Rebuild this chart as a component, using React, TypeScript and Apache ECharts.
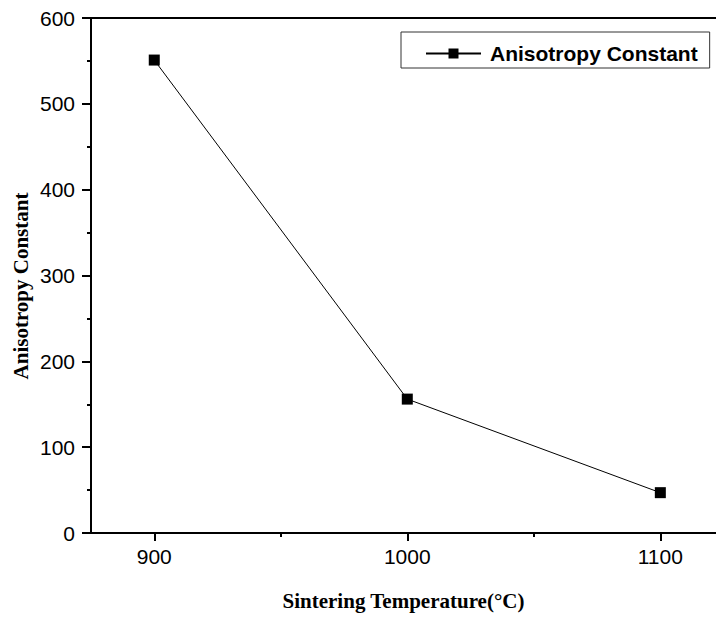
import React, { useEffect, useRef } from "react";
import * as echarts from "echarts";

// Sintering temperature (°C) and the anisotropy constant measured at each
const temperatures = [900, 1000, 1100];
const anisotropy = [551, 156, 47];

const xMajorTicks = [900, 1000, 1100];
const xMinorTicks = [950, 1050];
const yTicks = [0, 100, 200, 300, 400, 500, 600];

const seriesName = "Anisotropy Constant";
const xTitle = "Sintering Temperature(\u00B0C)";
const yTitle = "Anisotropy Constant";

const X_MIN = 875;
const X_MAX = 1122;

export default function App() {
  const ref = useRef<HTMLDivElement>(null);

  useEffect(() => {
    document.body.style.margin = "0";
    if (!ref.current) return;
    const chart = echarts.init(ref.current, undefined, { renderer: "svg" });

    const axisLine = { show: true, lineStyle: { color: "#000", width: 2 } };
    const sans = '"Liberation Sans", Arial, sans-serif';
    const serif = '"Liberation Serif", "Times New Roman", serif';

    chart.setOption({
      animation: false,
      backgroundColor: "#fff",
      grid: { left: 91, top: 18, right: 0, bottom: 88, containLabel: false },
      legend: {
        show: true,
        left: 401,
        top: 32,
        padding: [11, 12, 4, 24],
        borderColor: "#333",
        borderWidth: 1,
        borderRadius: 0,
        itemWidth: 55,
        itemHeight: 12.5,
        textStyle: {
          fontFamily: sans,
          fontWeight: "bold",
          fontSize: 21,
          color: "#000",
          padding: [0, 0, 0, 4],
        },
        data: [seriesName],
      },
      xAxis: [
        {
          type: "value",
          position: "bottom",
          min: X_MIN,
          max: X_MAX,
          splitLine: { show: false },
          axisLine,
          axisTick: {
            show: true,
            inside: false,
            length: 8,
            lineStyle: { color: "#000", width: 2 },
            customValues: xMajorTicks,
          },
          axisLabel: {
            show: true,
            customValues: xMajorTicks,
            formatter: (v: number) => String(v),
            margin: 13,
            fontFamily: sans,
            fontSize: 21,
            color: "#000",
          },
          name: xTitle,
          nameLocation: "middle",
          nameGap: 57,
          nameTextStyle: {
            fontFamily: serif,
            fontWeight: "bold",
            fontSize: 21,
            color: "#000",
          },
        },
        {
          type: "value",
          position: "bottom",
          min: X_MIN,
          max: X_MAX,
          splitLine: { show: false },
          axisLine: { show: false },
          axisTick: {
            show: true,
            length: 4,
            lineStyle: { color: "#000", width: 2 },
            customValues: xMinorTicks,
          },
          axisLabel: { show: false },
        },
        {
          type: "value",
          position: "top",
          min: X_MIN,
          max: X_MAX,
          splitLine: { show: false },
          axisLine,
          axisTick: { show: false },
          axisLabel: { show: false },
        },
      ],
      yAxis: {
        type: "value",
        min: yTicks[0],
        max: yTicks[yTicks.length - 1],
        interval: 100,
        splitLine: { show: false },
        axisLine,
        axisTick: {
          show: true,
          length: 9,
          lineStyle: { color: "#000", width: 2 },
        },
        minorTick: {
          show: true,
          splitNumber: 2,
          length: 4,
          lineStyle: { color: "#000", width: 2 },
        },
        axisLabel: {
          margin: 16,
          fontFamily: sans,
          fontSize: 21,
          color: "#000",
        },
      },
      graphic: [
        {
          type: "text",
          x: 21,
          y: 286,
          rotation: Math.PI / 2,
          style: {
            text: yTitle,
            font: `bold 21px ${serif}`,
            fill: "#000",
            align: "center",
            verticalAlign: "middle",
          },
        },
      ],
      series: [
        {
          name: seriesName,
          type: "line",
          xAxisIndex: 0,
          data: temperatures.map((t, i) => [t, anisotropy[i]]),
          symbol: "rect",
          symbolSize: 11,
          itemStyle: { color: "#000" },
          lineStyle: { color: "#000", width: 1 },
        },
      ],
    });

    return () => chart.dispose();
  }, []);

  return <div ref={ref} style={{ width: 716, height: 621 }} />;
}
